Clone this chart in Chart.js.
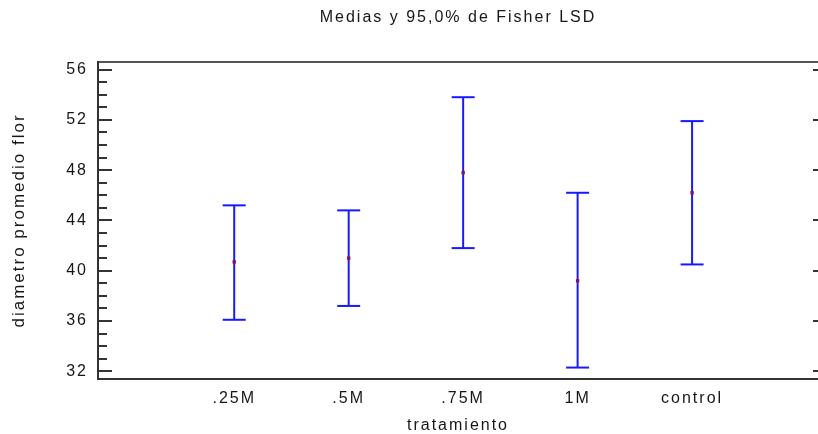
<!DOCTYPE html>
<html>
<head>
<meta charset="utf-8">
<script src="https://cdn.jsdelivr.net/npm/chart.js@4/dist/chart.umd.min.js"></script>
<style>
  html, body { margin: 0; padding: 0; background: #ffffff; }
  canvas { display: block; }
</style>
</head>
<body>
<canvas id="c" width="818" height="434"></canvas>
<script>
// ---- data ----
const categories = ['.25M', '.5M', '.75M', '1M', 'control'];
const means = [40.7, 41.0, 47.8, 39.2, 46.2];
const lower = [36.1, 37.2, 41.8, 32.3, 40.5];
const upper = [45.2, 44.8, 53.8, 46.2, 51.9];
const yTickValues = [32, 36, 40, 44, 48, 52, 56];

const chartTitle = 'Medias y 95,0% de Fisher LSD';
const xTitle = 'tratamiento';
const yTitle = 'diametro promedio flor';

// ---- styling ----
const FONT = "'Liberation Sans', Arial, sans-serif";
const TEXT = '#161616';
const BLUE = 'rgb(25,25,255)';
const MEAN_COLOR = '#8e1446';
const xMin = -0.19, xMax = 6.1;
const yMin = 31.39, yMax = 56.6;

const spacing = {
  id: 'spacing',
  beforeUpdate(chart) { chart.ctx.letterSpacing = '2px'; },
  beforeLayout(chart) { chart.ctx.letterSpacing = '2px'; },
  beforeDraw(chart) { chart.ctx.letterSpacing = '2px'; }
};

const innerTicks = {
  id: 'innerTicks',
  afterDraw(chart) {
    const y = chart.scales.y, a = chart.chartArea, ctx = chart.ctx;
    ctx.save();
    ctx.strokeStyle = '#333';
    ctx.lineWidth = 2;
    for (let v = Math.ceil(y.min); v <= y.max; v++) {
      const p = Math.round(y.getPixelForValue(v));
      const major = yTickValues.includes(v);
      ctx.beginPath();
      ctx.moveTo(a.left, p);
      ctx.lineTo(a.left + (major ? 14 : 9), p);
      ctx.stroke();
      if (major) {
        ctx.beginPath();
        ctx.moveTo(a.right, p);
        ctx.lineTo(a.right - 5, p);
        ctx.stroke();
      }
    }
    ctx.restore();
  }
};

const noPad = (s) => { s.paddingLeft = 0; s.paddingRight = 0; s.paddingTop = 0; s.paddingBottom = 0; };

const datasets = [];
datasets.push({
  label: 'media',
  data: means.map((m, i) => ({ x: i + 1, y: m })),
  pointStyle: 'rect',
  pointRadius: 2.4,
  pointBorderWidth: 0,
  pointBackgroundColor: MEAN_COLOR,
  showLine: false
});
categories.forEach((c, i) => {
  datasets.push({
    label: c,
    data: [{ x: i + 1, y: lower[i] }, { x: i + 1, y: upper[i] }],
    showLine: true,
    borderColor: BLUE,
    borderWidth: 2,
    pointStyle: 'line',
    pointRadius: 11.5,
    pointBorderWidth: 2,
    pointBorderColor: BLUE,
    pointBackgroundColor: BLUE
  });
});

new Chart(document.getElementById('c'), {
  type: 'scatter',
  data: { datasets },
  plugins: [spacing, innerTicks],
  options: {
    responsive: false,
    animation: false,
    events: [],
    layout: { padding: 0, autoPadding: false },
    plugins: {
      legend: { display: false },
      tooltip: { enabled: false },
      title: { display: false }
    },
    scales: {
      x: {
        type: 'linear',
        position: 'bottom',
        min: xMin, max: xMax,
        grid: { display: false, drawTicks: false },
        border: { display: true, color: '#333', width: 2 },
        afterBuildTicks(s) { s.ticks = categories.map((c, i) => ({ value: i + 1 })); },
        ticks: {
          autoSkip: false,
          padding: 10,
          color: TEXT,
          font: { family: FONT, size: 16 },
          callback: (v) => categories[v - 1]
        },
        title: {
          display: true, text: xTitle, color: TEXT,
          font: { family: FONT, size: 16, lineHeight: 1 },
          padding: { top: 0, bottom: 0 }
        },
        afterFit(s) { s.height = 55; noPad(s); }
      },
      xTop: {
        type: 'linear',
        position: 'top',
        min: xMin, max: xMax,
        grid: { display: false, drawTicks: false },
        border: { display: true, color: '#555', width: 2 },
        ticks: { display: false },
        title: {
          display: true, text: chartTitle, color: TEXT,
          font: { family: FONT, size: 16, lineHeight: 1 },
          padding: { top: 10, bottom: 0 }
        },
        afterFit(s) { s.height = 62; noPad(s); }
      },
      y: {
        type: 'linear',
        position: 'left',
        min: yMin, max: yMax,
        grid: { display: false, drawTicks: false },
        border: { display: true, color: '#333', width: 2 },
        afterBuildTicks(s) { s.ticks = yTickValues.map(v => ({ value: v })); },
        ticks: {
          padding: 10,
          color: TEXT,
          font: { family: FONT, size: 16 }
        },
        title: {
          display: true, text: yTitle, color: TEXT,
          font: { family: FONT, size: 17, lineHeight: 1 },
          padding: { top: 11, bottom: 0 }
        },
        afterFit(s) { s.width = 98; noPad(s); }
      }
    }
  }
});
</script>
</body>
</html>
